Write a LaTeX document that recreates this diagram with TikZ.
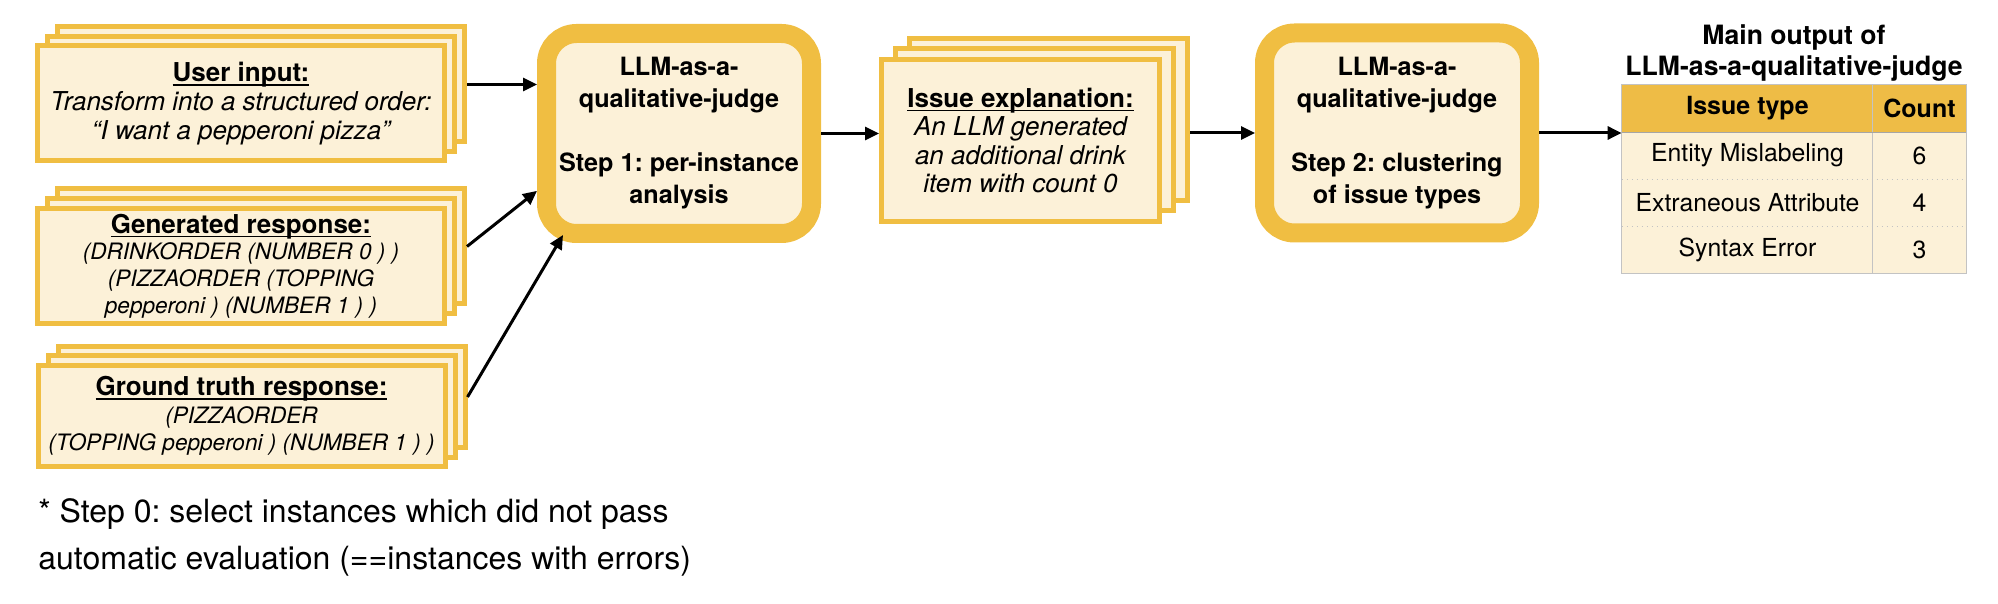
\documentclass[tikz,border=0pt]{standalone}
\usepackage{fontspec}
\setmainfont{TeX Gyre Heros}
\usetikzlibrary{arrows.meta}
\definecolor{gold}{RGB}{240,190,66}
\definecolor{cream}{RGB}{252,241,216}
\definecolor{hdrgold}{RGB}{238,188,70}
\definecolor{tline}{RGB}{195,195,195}
\newcommand{\ulbox}[1]{\setbox0=\hbox{#1}\rlap{\rule[-2.2pt]{\wd0}{0.9pt}}\box0}
\newcommand{\codeline}[1]{{\fontsize{11.3}{13.4}\selectfont\itshape #1}}
\newcommand{\itline}[1]{{\itshape #1}}
\frenchspacing
\begin{document}
\begin{tikzpicture}[x=0.5pt,y=-0.5pt,
  sheet/.style={draw=gold, fill=cream, line width=2.5pt, inner sep=0pt, align=center},
  widesheet/.style={sheet, minimum width=203.5pt, minimum height=57.5pt},
  gtsheet/.style={sheet, minimum width=203.5pt, minimum height=50.5pt},
  isssheet/.style={sheet, minimum width=139pt, minimum height=81pt},
  judge/.style={draw=gold, fill=cream, line width=9.5pt, rounded corners=15pt,
    minimum width=132.5pt, minimum height=100pt, align=center, inner sep=0pt,
    font=\fontsize{12.6}{16}\selectfont\bfseries},
  arr/.style={-{Triangle[length=7pt,width=6.5pt]}, line width=1.5pt, black},
  hcell/.style={fill=hdrgold, inner sep=0pt, minimum height=23.5pt,
    font=\fontsize{12.5}{14}\selectfont\bfseries},
  cell/.style={fill=cream, inner sep=0pt, minimum height=23.5pt,
    font=\fontsize{12.4}{14}\selectfont},
  tl/.style={draw=tline, line width=0.5pt}
]
\useasboundingbox (0,0) rectangle (1998,604);

% --- User input stack
\node[widesheet] (ui3) at (261,84.5) {};
\node[widesheet] (ui2) at (251,94) {};
\node[widesheet, font=\fontsize{13}{14.5}\selectfont] (ui) at (241,103.5)
  {\ulbox{\bfseries User input:}\\ \itline{Transform into a structured order:}\\ \itline{“I want a pepperoni pizza”}};

% --- Generated response stack
\node[widesheet] (gen3) at (261,246.5) {};
\node[widesheet] (gen2) at (251,256) {};
\node[widesheet, font=\fontsize{13}{13.4}\selectfont] (gen) at (241,266)
  {\ulbox{\bfseries Generated response:}\\ \codeline{(DRINKORDER (NUMBER 0 ) )}\\ \codeline{(PIZZAORDER (TOPPING}\\ \codeline{pepperoni ) (NUMBER 1 ) )}};

% --- Ground truth stack
\node[gtsheet] (gt3) at (261.5,397) {};
\node[gtsheet] (gt2) at (251.5,406.5) {};
\node[gtsheet, font=\fontsize{13}{13.75}\selectfont] (gt) at (241.5,416)
  {\ulbox{\bfseries Ground truth response:}\\ \codeline{(PIZZAORDER}\\ \codeline{(TOPPING pepperoni ) (NUMBER 1 ) )}};

% --- Judge step 1
\node[judge] (llm1) at (679,133.5)
  {LLM-as-a-\\qualitative-judge\\[16pt] Step 1: per-instance\\ analysis};

% --- Issue explanation stack
\node[isssheet] (iss3) at (1048.5,119.5) {};
\node[isssheet] (iss2) at (1034.5,130) {};
\node[isssheet, font=\fontsize{13}{14.3}\selectfont] (iss) at (1020.5,140.5)
  {\ulbox{\bfseries Issue explanation:}\\ \itline{An LLM generated}\\ \itline{an additional drink}\\ \itline{item with count 0}};

% --- Judge step 2
\node[judge] (llm2) at (1397,133)
  {LLM-as-a-\\qualitative-judge\\[16pt] Step 2: clustering\\ of issue types};

% --- Output table
\node[font=\fontsize{13.3}{15.5}\selectfont\bfseries, align=center, inner sep=0pt] (title) at (1794,53)
  {Main output of\\LLM-as-a-qualitative-judge};
\node[hcell, minimum width=125.5pt] (h1) at (1747.5,108.5) {Issue type};
\node[hcell, minimum width=46.5pt] (h2) at (1919.5,108.5) {Count};
\node[cell, minimum width=125.5pt] (r1a) at (1747.5,155.5) {Entity Mislabeling};
\node[cell, minimum width=46.5pt] (r1b) at (1919.5,155.5) {6};
\node[cell, minimum width=125.5pt] (r2a) at (1747.5,202.5) {Extraneous Attribute};
\node[cell, minimum width=46.5pt] (r2b) at (1919.5,202.5) {4};
\node[cell, minimum width=125.5pt] (r3a) at (1747.5,249.5) {Syntax Error};
\node[cell, minimum width=46.5pt] (r3b) at (1919.5,249.5) {3};
\draw[tl] (h1.north west) rectangle (r3b.south east);
\draw[tl] (h2.north west) -- (r3b.south west);
\draw[draw=tline!85!black, line width=0.7pt] (h1.south west) -- (h2.south east);
\draw[tl, dotted] (r1a.south west) -- (r1b.south east);
\draw[tl, dotted] (r2a.south west) -- (r2b.south east);

% --- Connectors
\draw[arr] (ui3.east) -- (ui3.east -| llm1.west);
\draw[arr] (gen3.east) -- (llm1.202);
\draw[arr] (gt3.east) -- ([xshift=13pt,yshift=4pt]llm1.south west);
\draw[arr] (llm1.east) -- (llm1.east -| iss.west);
\draw[arr] (iss3.east |- llm2.west) -- (llm2.west);
\draw[arr] (llm2.east) -- (llm2.east -| h1.west);

% --- Note
\node[anchor=north west, align=left, inner sep=0pt, font=\fontsize{16}{23.5}\selectfont] (note) at (38,498)
  {* Step 0: select instances which did not pass\\automatic evaluation (==instances with errors)};
\end{tikzpicture}
\end{document}
